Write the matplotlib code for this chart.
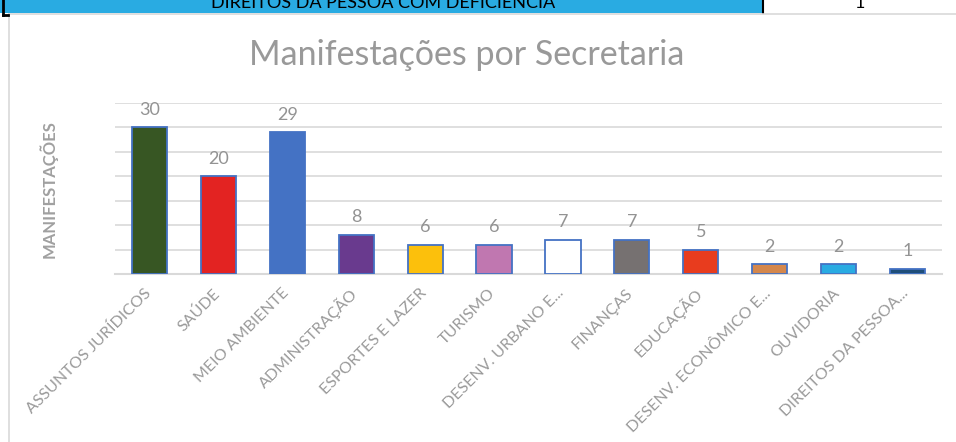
import matplotlib
matplotlib.use("Agg")
import matplotlib.pyplot as plt
import matplotlib.transforms as mtransforms
from matplotlib.lines import Line2D

categories = ["ASSUNTOS JURÍDICOS", "SAÚDE", "MEIO AMBIENTE", "ADMINISTRAÇÃO",
              "ESPORTES E LAZER", "TURISMO", "DESENV. URBANO E...", "FINANÇAS",
              "EDUCAÇÃO", "DESENV. ECONÔMICO E...", "OUVIDORIA", "DIREITOS DA PESSOA..."]
values = [30, 20, 29, 8, 6, 6, 7, 7, 5, 2, 2, 1]
colors = ["#375623", "#E32322", "#4472C4", "#693A8E", "#FCC00C", "#C077B0",
          "#FFFFFF", "#767171", "#E83C1E", "#D4874C", "#29ABE2", "#1F4E79"]
title = "Manifestações por Secretaria"
ylabel = "MANIFESTAÇÕES"
strip_text = "DIREITOS DA PESSOA COM DEFICIÊNCIA"
strip_value = "1"

plt.rcParams['font.family'] = ['Lato', 'DejaVu Sans']

W, H = 956, 442
fig = plt.figure(figsize=(W / 100, H / 100), dpi=100)

def px(l, t, r, b):
    return [l / W, 1 - b / H, (r - l) / W, (b - t) / H]

# top strip (spreadsheet row)
sax = fig.add_axes(px(0, 0, 762, 12.5))
sax.set_facecolor("#29ABE2")
sax.set_xlim(0, 1); sax.set_ylim(0, 1)
sax.set_xticks([]); sax.set_yticks([])
for s in sax.spines.values():
    s.set_visible(False)
sax.text(0.503, 0.38, strip_text, ha="center", va="baseline", fontsize=13,
         color="#000000", clip_on=True, transform=sax.transAxes)

cax = fig.add_axes(px(762, 0, 956, 12.5))
cax.set_xlim(0, 1); cax.set_ylim(0, 1)
cax.set_xticks([]); cax.set_yticks([])
for s in cax.spines.values():
    s.set_visible(False)
cax.text((860 - 762) / 194, 0.38, strip_value, ha="center", va="baseline",
         fontsize=13, color="#000000", clip_on=True, transform=cax.transAxes)

# borders
fig.add_artist(Line2D([762.5 / W, 762.5 / W], [1, 1 - 12.5 / H], color="#000000", lw=1.5))
fig.add_artist(Line2D([9 / W, 1], [1 - 13.5 / H, 1 - 13.5 / H], color="#D9D9D9", lw=1.2))
fig.add_artist(Line2D([9 / W, 9 / W], [0, 1 - 13.5 / H], color="#D9D9D9", lw=1.2))
fig.add_artist(Line2D([3 / W, 3 / W], [1, 1 - 15 / H], color="#000000", lw=2))
fig.add_artist(Line2D([3 / W, 8 / W], [1 - 14.5 / H, 1 - 14.5 / H], color="#000000", lw=2))

# main chart
ax = fig.add_axes(px(115, 103, 942, 274))
x = list(range(len(categories)))
ax.bar(x, values, width=0.51, color=colors, edgecolor="#4472C4", linewidth=1.3, zorder=3)
ax.set_xlim(-0.5, len(categories) - 0.5)
ax.set_ylim(0, 35)
ax.set_yticks(range(0, 36, 5))
ax.yaxis.grid(True, color="#D9D9D9", linewidth=1.2, zorder=0)
ax.tick_params(axis="y", left=False, labelleft=False)
ax.tick_params(axis="x", bottom=False, pad=6)
for s in ["top", "right", "left"]:
    ax.spines[s].set_visible(False)
ax.spines["bottom"].set_color("#D9D9D9")
ax.spines["bottom"].set_linewidth(1.5)
ax.set_xticks(x)
ax.set_xticklabels(categories, rotation=45, ha="right", va="center",
                   rotation_mode="anchor", fontsize=11.5, color="#9A9A9A")

offset = mtransforms.ScaledTranslation(-1 / 100, -4 / 100, fig.dpi_scale_trans)
for lab in ax.get_xticklabels():
    lab.set_transform(lab.get_transform() + offset)

for xi, v in zip(x, values):
    ax.annotate(str(v), (xi, v), xytext=(0, 7), textcoords="offset points",
                ha="center", va="bottom", fontsize=13, color="#939393")

fig.text(467 / W, 1 - 55 / H, title, ha="center", va="center", fontsize=24.5, color="#999999")
fig.text(48 / W, 1 - 189 / H, ylabel, ha="center", va="center", rotation=90,
         fontsize=12, fontweight="bold", color="#A0A0A0")

fig.savefig("out.png", dpi=100)
